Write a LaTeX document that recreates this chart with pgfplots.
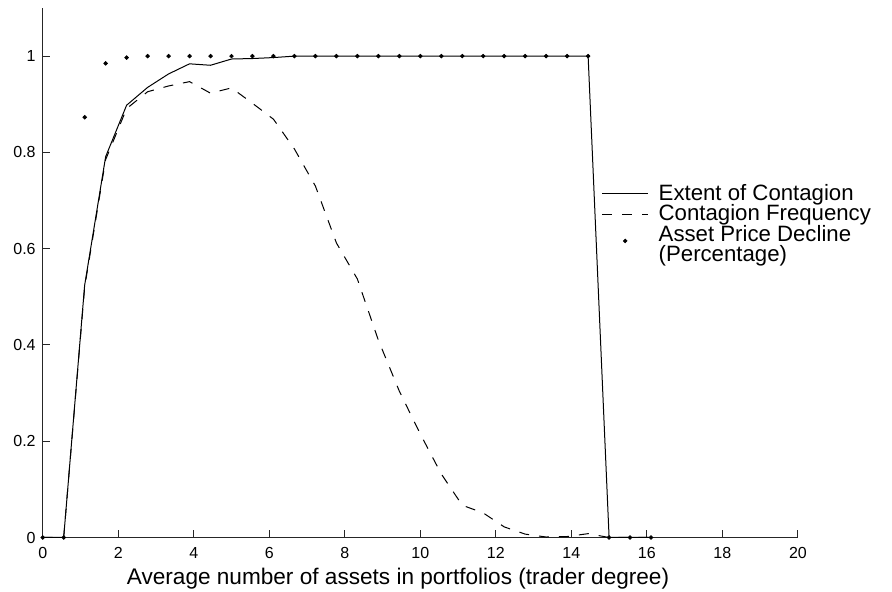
\documentclass[border=0pt]{standalone}
\usepackage{fontspec}
\setmainfont{Liberation Sans}
\usepackage{pgfplots}
\pgfplotsset{compat=1.18}
\begin{document}
\begin{tikzpicture}
\useasboundingbox (-21.35pt,-27.25pt) rectangle (424.65pt,268.75pt);
\begin{axis}[
  at={(0pt,0pt)}, anchor=south west,
  scale only axis, width=377.6pt, height=264.75pt,
  xmin=0, xmax=20, ymin=0, ymax=1.1,
  axis x line*=bottom, axis y line*=left,
  xtick={0,2,4,6,8,10,12,14,16,18,20},
  ytick={0,0.2,0.4,0.6,0.8,1},
  tick align=inside, major tick length=3.65pt,
  axis line style={line width=0.5pt, black!85},
  tick style={line width=0.5pt, black!85},
  /pgf/number format/assume math mode=true,
  tick label style={font=\fontsize{8}{9.6}\selectfont},
  xticklabel style={anchor=base, yshift=-10.5pt},
  clip=false,
  xlabel={Average number of assets in portfolios (trader degree)},
  xlabel style={font=\fontsize{11.3}{13}\selectfont, at={(axis description cs:0.4705,0)}, anchor=base, yshift=-23.75pt},
  legend style={draw=none, fill=none, at={(0.7402,0.6687)}, anchor=north west,
    inner sep=0pt, outer sep=0pt, font=\fontsize{11.1}{10.3}\selectfont,
    row sep=0pt, column sep=5pt,
    nodes={inner sep=0pt, text height=8.3pt, text depth=2pt}},
  legend cell align=left,
  legend image code/.code={\draw[#1] (0pt,0pt) -- (23pt,0pt);},
]
\addplot[black, line width=0.5pt] coordinates {
(0,0) (0.5556,0) (1.1111,0.524) (1.6667,0.791) (2.2222,0.898) (2.7778,0.935)
(3.3333,0.963) (3.8889,0.984) (4.4444,0.981) (5.0000,0.994) (5.5556,0.995)
(6.1111,0.997) (6.6667,1) (7.2222,1) (7.7778,1) (8.3333,1) (8.8889,1)
(9.4444,1) (10.0000,1) (10.5556,1) (11.1111,1) (11.6667,1) (12.2222,1)
(12.7778,1) (13.3333,1) (13.8889,1) (14.4444,1) (15.0000,0) (15.5556,0) (16.1111,0)
};
\addplot[black, line width=0.5pt, dash pattern=on 5pt off 5pt] coordinates {
(0,0) (0.5556,0) (1.1111,0.52) (1.6667,0.785) (2.2222,0.891) (2.7778,0.926)
(3.3333,0.938) (3.8889,0.947) (4.4444,0.923) (5.0000,0.934) (5.5556,0.902)
(6.1111,0.869) (6.6667,0.807) (7.2222,0.730) (7.7778,0.612) (8.3333,0.537)
(8.8889,0.410) (9.4444,0.304) (10.0000,0.215) (10.5556,0.132) (11.1111,0.067)
(11.6667,0.051) (12.2222,0.022) (12.7778,0.007) (13.3333,0.001) (13.8889,0.002)
(14.4444,0.008) (15.0000,0) (15.5556,0) (16.1111,0)
};
\addplot[only marks, mark=*, mark size=0.9pt, black,
  legend image code/.code={\fill[black] (11.5pt,-3pt) circle (0.9pt);}] coordinates {
(0,0) (0.5556,0) (1.1111,0.873) (1.6667,0.985) (2.2222,0.997) (2.7778,1)
(3.3333,1) (3.8889,1) (4.4444,1) (5.0000,1) (5.5556,1)
(6.1111,1) (6.6667,1) (7.2222,1) (7.7778,1) (8.3333,1) (8.8889,1)
(9.4444,1) (10.0000,1) (10.5556,1) (11.1111,1) (11.6667,1) (12.2222,1)
(12.7778,1) (13.3333,1) (13.8889,1) (14.4444,1) (15.0000,0) (15.5556,0) (16.1111,0)
};
\addlegendimage{empty legend}
\legend{Extent of Contagion, Contagion Frequency, Asset Price Decline, (Percentage)}
\end{axis}
\end{tikzpicture}
\end{document}
